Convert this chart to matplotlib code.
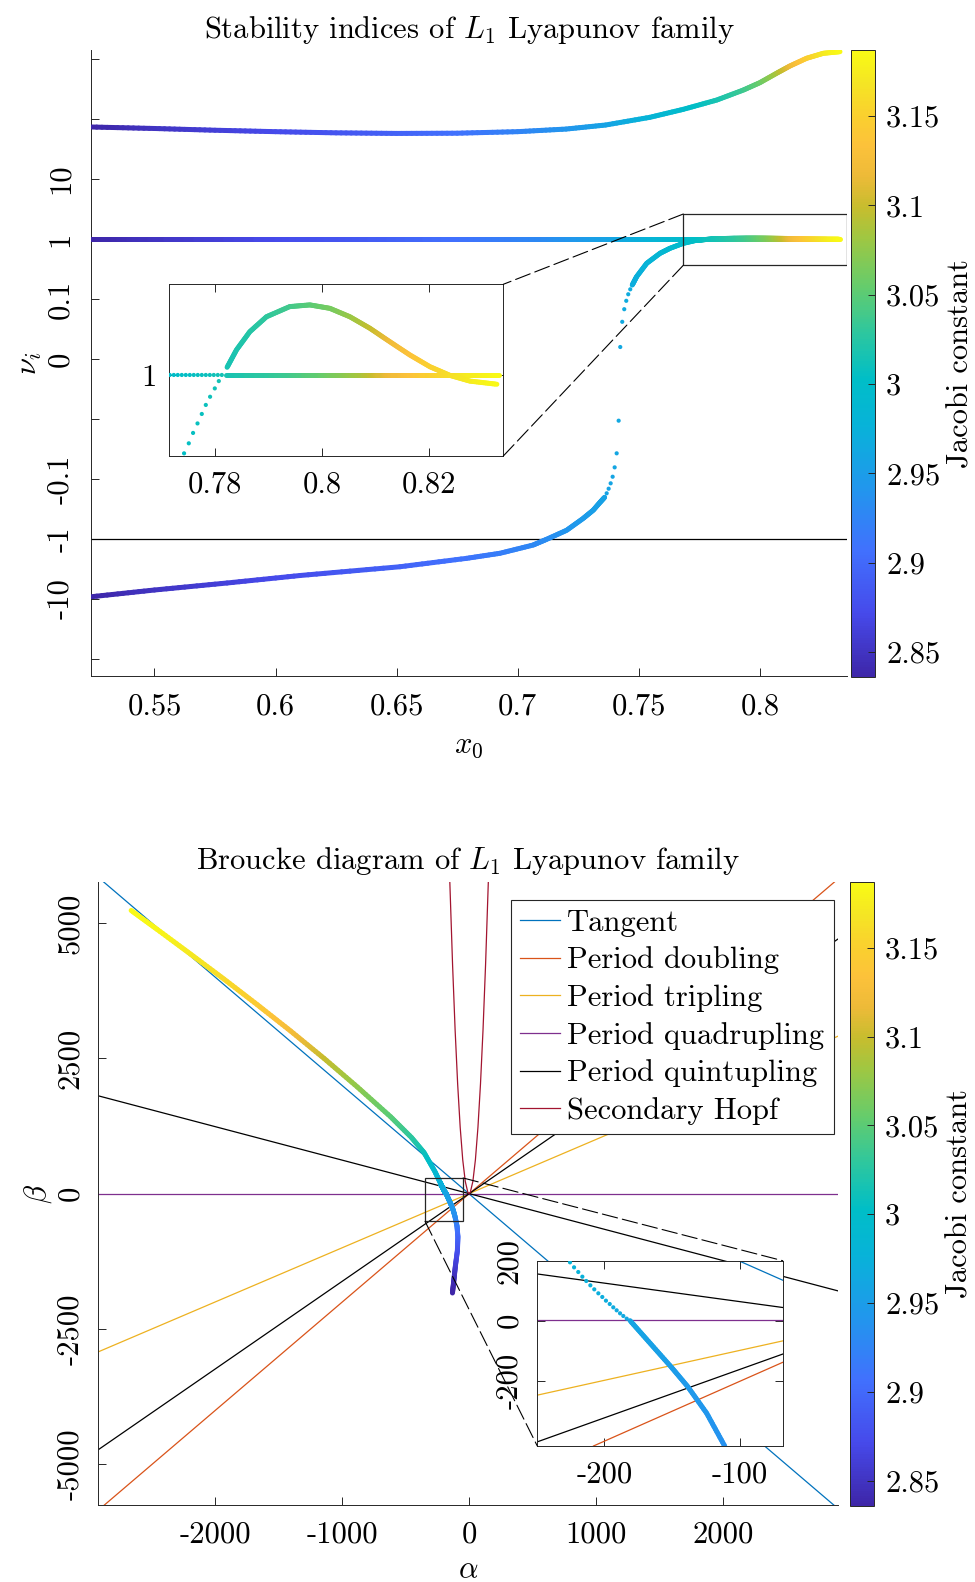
import numpy as np
import matplotlib
matplotlib.use('Agg')
import matplotlib.pyplot as plt
from matplotlib.collections import LineCollection
from matplotlib.colors import LinearSegmentedColormap, Normalize
from matplotlib.patches import Rectangle, ConnectionPatch
from matplotlib.cm import ScalarMappable

plt.rcParams.update({
    'font.family': 'cmr10',
    'mathtext.fontset': 'cm',
    'axes.unicode_minus': False,
    'font.size': 22,
    'axes.linewidth': 0.7,
    'axes.edgecolor': '#262626',
    'xtick.color': '#262626',
    'ytick.color': '#262626',
    'xtick.labelcolor': 'black',
    'ytick.labelcolor': 'black',
})

# --- L1 Lyapunov family: Jacobi constant along x0 ---
fam_x0 = [0.524, 0.55, 0.60, 0.635, 0.68, 0.71, 0.74, 0.755, 0.768, 0.782,
          0.793, 0.800, 0.807, 0.812, 0.819, 0.826, 0.8331]
fam_C = [2.836, 2.850, 2.872, 2.885, 2.910, 2.930, 2.960, 2.980, 2.995, 3.015,
         3.035, 3.055, 3.085, 3.115, 3.145, 3.170, 3.186]

# largest stability index
big_x0 = [0.524, 0.55, 0.575, 0.60, 0.625, 0.65, 0.675, 0.70, 0.72, 0.7363,
          0.7546, 0.7684, 0.7822, 0.7932, 0.8000, 0.8069, 0.8124, 0.8193, 0.8262, 0.8331]
big_nu = [73.6, 69.5, 65.0, 61.5, 58.8, 57.5, 58.0, 61.5, 68.0, 79.4,
          106.7, 145, 207, 304, 403, 578, 764, 1028, 1245, 1324]

# trivial index (always 1)
triv_nu = [1.0, 1.0, 1.0, 1.0, 1.0, 1.0, 1.0, 1.0, 1.0, 1.0,
           1.0, 1.0, 1.0, 1.0, 1.0, 1.0, 1.0]

# third index, lower (negative) branch
low_x0 = [0.524, 0.55, 0.58, 0.6101, 0.6514, 0.6789, 0.6927, 0.7064, 0.712,
          0.7202, 0.7271, 0.7312, 0.734, 0.7359]
low_nu = [-9.16, -7.08, -5.41, -4.06, -2.90, -2.10, -1.73, -1.26, -1.01,
          -0.716, -0.452, -0.331, -0.245, -0.202]
low_dot_x0 = [0.73592, 0.73675, 0.73757, 0.7384, 0.73922, 0.74005, 0.74088, 0.7417]
low_dot_nu = [-0.202, -0.173, -0.145, -0.118, -0.0981, -0.0903, -0.0786, -0.0514]

# third index, upper branch
up_dot_x0 = [0.74236, 0.74318, 0.74401, 0.74484, 0.74566, 0.74649, 0.74732]
up_dot_nu = [0.02, 0.062, 0.083, 0.097, 0.12, 0.145, 0.171]
up_x0 = [0.74732, 0.7491, 0.7533, 0.7588, 0.7629, 0.7684]
up_nu = [0.171, 0.235, 0.394, 0.578, 0.700, 0.848]
rise_x0 = [0.77426, 0.77514, 0.77594, 0.77677, 0.77757, 0.77832, 0.77912, 0.78, 0.78075]
rise_nu = [0.9610, 0.9659, 0.9710, 0.9757, 0.9804, 0.9849, 0.9890, 0.9932, 0.9969]
bump_x0 = [0.7823, 0.78405, 0.78654, 0.78966, 0.79399, 0.79776, 0.8015, 0.80523,
           0.80897, 0.81271, 0.81645, 0.82019, 0.82393, 0.82766, 0.8327]
bump_nu = [1.0039, 1.0128, 1.0222, 1.0300, 1.0353, 1.0362, 1.0344, 1.0300,
           1.0240, 1.0170, 1.0102, 1.0042, 0.9998, 0.9969, 0.9953]
# sparse trivial-index points seen in the zoom window
triv_dot_x0 = [0.77159, 0.77234, 0.77308, 0.77383, 0.77458, 0.77533, 0.77607,
               0.77682, 0.77757, 0.77832, 0.77907, 0.77981, 0.78056, 0.78131]

# --- Broucke diagram of the same family ---
alpha_fam = [-2663, -2458, -2195, -1932, -1669, -1406, -1143, -880, -618, -455, -355, -270]
beta_fam = [5231, 4881, 4425, 3964, 3490, 3004, 2499, 1970, 1420, 1040, 760, 412]
C_fam = [3.186, 3.182, 3.172, 3.160, 3.145, 3.125, 3.100, 3.075, 3.050, 3.030, 3.012, 2.992]
alpha_dots = [-225.3, -222.3, -219.2, -216.2, -213.3, -210.3, -207.4, -204.4,
              -201.5, -198.8, -196.0, -193.4, -190.9, -188.4, -186.0, -183.5]
beta_dots = [194.6, 177.9, 162.3, 146.7, 132.3, 117.9, 104.5, 91.2,
             79.0, 66.7, 55.6, 44.5, 34.5, 24.5, 15.6, 6.7]
C_dots = [2.978, 2.977, 2.976, 2.975, 2.974, 2.973, 2.972, 2.971,
          2.970, 2.969, 2.968, 2.967, 2.966, 2.965, 2.964, 2.963]
alpha_tail = [-181.0, -166.2, -150.5, -138.5, -124.5, -111.7, -95, -88, -92, -108, -120, -131]
beta_tail = [0, -75.5, -155.5, -220, -309, -414.6, -600, -800, -1050, -1340, -1600, -1834]
C_tail = [2.960, 2.955, 2.950, 2.946, 2.942, 2.937, 2.920, 2.900, 2.880, 2.860, 2.845, 2.836]

# bifurcation lines beta = m*alpha + b
bound_label = ['Tangent', 'Period doubling', 'Period tripling', 'Period quadrupling',
               'Period quintupling', None]
bound_slope = [-2.0, 2.0, 1.0, 0.0, -0.618, 1.618]
bound_icept = [-2.0, -2.0, 1.0, 2.0, 1.618, -0.618]
bound_color = ['#0072BD', '#D95319', '#EDB120', '#7E2F8E', 'black', 'black']
hopf_alpha = [-152, -130, -110, -90, -70, -50, -30, -10, 0, 10, 30, 50, 70, 90, 110, 130, 152]
hopf_beta = [5778, 4227, 3027, 2027, 1227, 627, 227, 27, 2, 27, 227, 627, 1227, 2027, 3027, 4227, 5778]

cbar_ticks = [2.85, 2.9, 2.95, 3.0, 3.05, 3.1, 3.15]
cbar_labels = ['2.85', '2.9', '2.95', '3', '3.05', '3.1', '3.15']

parula = LinearSegmentedColormap.from_list('parula', [
    (0.00, (0.242, 0.150, 0.660)),
    (0.10, (0.275, 0.290, 0.920)),
    (0.20, (0.255, 0.440, 0.995)),
    (0.30, (0.130, 0.590, 0.930)),
    (0.40, (0.030, 0.700, 0.850)),
    (0.475, (0.000, 0.745, 0.780)),
    (0.55, (0.180, 0.780, 0.620)),
    (0.625, (0.400, 0.800, 0.420)),
    (0.70, (0.620, 0.780, 0.260)),
    (0.75, (0.780, 0.740, 0.180)),
    (0.80, (0.930, 0.730, 0.220)),
    (0.85, (0.990, 0.760, 0.230)),
    (0.90, (0.980, 0.820, 0.180)),
    (0.95, (0.960, 0.900, 0.140)),
    (1.00, (0.977, 0.984, 0.080)),
])
norm = Normalize(2.836, 3.187)


def fwd(y):
    y = np.asarray(y, float)
    a = np.abs(y)
    lg = np.log10(np.maximum(a, 0.1))
    return np.where(y >= 0, np.where(a >= 0.1, lg + 2, y / 0.1),
                    np.where(a >= 0.1, -(lg + 3), 2 * y / 0.1))


def inv(t):
    t = np.asarray(t, float)
    with np.errstate(over='ignore'):
        return np.where(t >= 0, np.where(t >= 1, 10.0 ** (t - 2), 0.1 * t),
                        np.where(t <= -2, -10.0 ** (-t - 3), 0.05 * t))


def color_line(ax, x, y, c, lw=3.6, log=False, sub=12):
    # coloured polyline; each segment split up so the colour fades smoothly
    x = np.asarray(x, float)
    y = np.asarray(y, float)
    c = np.asarray(c, float)
    ty = fwd(y) if log else y
    s = np.linspace(0, 1, sub + 1)
    segs, cols = [], []
    for i in range(len(x) - 1):
        xx = x[i] + (x[i + 1] - x[i]) * s
        tt = ty[i] + (ty[i + 1] - ty[i]) * s
        yy = inv(tt) if log else tt
        cc = c[i] + (c[i + 1] - c[i]) * s
        pts = np.column_stack([xx, yy])
        segs.extend(np.stack([pts[:-1], pts[1:]], axis=1))
        cols.extend(0.5 * (cc[:-1] + cc[1:]))
    lc = LineCollection(segs, cmap=parula, norm=norm, linewidths=lw,
                        capstyle='round', joinstyle='round', zorder=3)
    lc.set_array(np.array(cols))
    ax.add_collection(lc)


def jac(x):
    return np.interp(x, fam_x0, fam_C)


W, H = 975, 1582
fig = plt.figure(figsize=(W / 100, H / 100), dpi=100)


def px_axes(x0, y0, x1, y1):
    return fig.add_axes([x0 / W, 1 - y1 / H, (x1 - x0) / W, (y1 - y0) / H])


def style(ax, box=False):
    ax.tick_params(direction='in', length=6, width=0.7, top=box, right=box)
    if not box:
        ax.spines['top'].set_visible(False)
        ax.spines['right'].set_visible(False)


dash = (0, (14, 4.5))

# ================= stability indices =================
ax1 = px_axes(91, 50, 847, 676)
ax1.set_yscale('function', functions=(fwd, inv))
ax1.set_xlim(0.5238, 0.836)
ax1.set_ylim(-192, 1413)
style(ax1)
ax1.axhline(-1, color='black', lw=0.9, zorder=2)

color_line(ax1, big_x0, big_nu, jac(big_x0), log=True)
color_line(ax1, fam_x0, triv_nu, jac(fam_x0), log=True)
color_line(ax1, low_x0, low_nu, jac(low_x0), log=True)
up_all_x0 = up_x0 + rise_x0 + bump_x0
up_all_nu = up_nu + rise_nu + bump_nu
color_line(ax1, up_all_x0, up_all_nu, jac(up_all_x0), log=True)
ax1.scatter(low_dot_x0 + up_dot_x0, low_dot_nu + up_dot_nu, s=9, lw=0,
            c=jac(low_dot_x0 + up_dot_x0), cmap=parula, norm=norm, zorder=3)

ax1.set_xticks([0.55, 0.6, 0.65, 0.7, 0.75, 0.8])
ax1.set_xticklabels(['0.55', '0.6', '0.65', '0.7', '0.75', '0.8'])
ax1.set_yticks([1000, 100, 10, 1, 0.1, 0, -0.05, -0.1, -1, -10, -100])
ax1.set_yticklabels(['', '', '10', '1', '0.1', '0', '', '-0.1', '-1', '-10', ''],
                    rotation=90, va='center')
ax1.tick_params(axis='x', pad=12)
ax1.tick_params(axis='y', pad=12)
ax1.set_xlabel(r'$x_0$', labelpad=9)
ax1.set_ylabel(r'$\nu_i$', labelpad=2)
ax1.set_title(r'Stability indices of $L_1$ Lyapunov family', pad=9, fontsize=22)

rect1 = (0.7684, 0.3646, 0.836, 2.61)
ax1.add_patch(Rectangle((rect1[0], rect1[1]), rect1[2] - rect1[0], rect1[3] - rect1[1],
                        fill=False, ec='#262626', lw=0.9, zorder=4))

in1 = px_axes(169.3, 284.3, 503.3, 456)
in1.set_yscale('function', functions=(fwd, inv))
in1.set_xlim(0.7715, 0.8339)
in1.set_ylim(0.9597, 1.0471)
style(in1, box=True)
color_line(in1, fam_x0[9:], triv_nu[9:], jac(fam_x0[9:]), log=True)
color_line(in1, bump_x0, bump_nu, jac(bump_x0), log=True)
in1.scatter(triv_dot_x0, [1.0] * len(triv_dot_x0), s=9, lw=0,
            c=jac(triv_dot_x0), cmap=parula, norm=norm, zorder=3)
in1.scatter(rise_x0, rise_nu, s=9, lw=0, c=jac(rise_x0), cmap=parula, norm=norm, zorder=3)
in1.set_xticks([0.78, 0.8, 0.82])
in1.set_xticklabels(['0.78', '0.8', '0.82'])
in1.set_yticks([1])
in1.set_yticklabels(['1'])
in1.tick_params(axis='x', pad=11)
in1.tick_params(axis='y', pad=9)

for xa, ya, xb, yb in [(rect1[0], rect1[3], 1, 1), (rect1[0], rect1[1], 1, 0)]:
    fig.add_artist(ConnectionPatch((xa, ya), (xb, yb), coordsA='data', coordsB='axes fraction',
                                   axesA=ax1, axesB=in1, ls=dash, lw=0.8, color='black'))

cax1 = px_axes(851, 50, 875, 677)
cb1 = fig.colorbar(ScalarMappable(norm=norm, cmap=parula), cax=cax1)

# ================= Broucke diagram =================
ax2 = px_axes(97.9, 881.8, 837.7, 1505.3)
ax2.set_xlim(-2925, 2905)
ax2.set_ylim(-5755, 5760)
style(ax2)
handles = []
for lab, m, b, col in zip(bound_label, bound_slope, bound_icept, bound_color):
    h = ax2.axline((0, b), slope=m, color=col, lw=0.9, zorder=2)
    if lab:
        h.set_label(lab)
        handles.append(h)
h, = ax2.plot(hopf_alpha, hopf_beta, color='#A2142F', lw=0.9, zorder=2, label='Secondary Hopf')
handles.append(h)

br_alpha = alpha_fam + alpha_dots + alpha_tail
br_beta = beta_fam + beta_dots + beta_tail
br_C = C_fam + C_dots + C_tail
color_line(ax2, br_alpha, br_beta, br_C)

ax2.set_xticks([-2000, -1000, 0, 1000, 2000])
ax2.set_xticklabels(['-2000', '-1000', '0', '1000', '2000'])
ax2.set_yticks([-5000, -2500, 0, 2500, 5000])
ax2.set_yticklabels(['-5000', '-2500', '0', '2500', '5000'], rotation=90, va='center')
ax2.tick_params(axis='x', pad=11)
ax2.tick_params(axis='y', pad=10)
ax2.set_xlabel(r'$\alpha$', labelpad=6)
ax2.set_ylabel(r'$\beta$', labelpad=2)
ax2.set_title(r'Broucke diagram of $L_1$ Lyapunov family', pad=9, fontsize=22)

leg = ax2.legend(handles=handles, loc='upper right', bbox_to_anchor=(0.9946, 0.9708),
                 borderaxespad=0, fancybox=False, framealpha=1, edgecolor='#262626',
                 handlelength=1.3, handletextpad=0.25, labelspacing=0.32,
                 borderpad=0.3, fontsize=22)
leg.get_frame().set_linewidth(0.8)

rect2 = (-347, -511, -47, 290)
ax2.add_patch(Rectangle((rect2[0], rect2[1]), rect2[2] - rect2[0], rect2[3] - rect2[1],
                        fill=False, ec='#262626', lw=0.9, zorder=4))

in2 = px_axes(537.3, 1260.7, 782.7, 1446)
in2.set_xlim(-249.4, -68.5)
in2.set_ylim(-418, 200)
style(in2, box=True)
for m, b, col in zip(bound_slope, bound_icept, bound_color):
    in2.axline((0, b), slope=m, color=col, lw=0.9, zorder=2)
in2.scatter(alpha_dots, beta_dots, s=9, lw=0, c=C_dots, cmap=parula, norm=norm, zorder=3)
color_line(in2, alpha_tail, beta_tail, C_tail)
in2.set_xticks([-200, -100])
in2.set_xticklabels(['-200', '-100'])
in2.set_yticks([-200, 0, 200])
in2.set_yticklabels(['-200', '0', '200'], rotation=90, va='center')
in2.tick_params(axis='x', pad=11)
in2.tick_params(axis='y', pad=10)

for xa, ya, xb, yb in [(rect2[2], rect2[3], 1, 1), (rect2[0], rect2[1], 0, 0)]:
    fig.add_artist(ConnectionPatch((xa, ya), (xb, yb), coordsA='data', coordsB='axes fraction',
                                   axesA=ax2, axesB=in2, ls=dash, lw=0.8, color='black'))

cax2 = px_axes(850, 882, 874, 1505.6)
cb2 = fig.colorbar(ScalarMappable(norm=norm, cmap=parula), cax=cax2)

for cb in (cb1, cb2):
    cb.set_ticks(cbar_ticks)
    cb.set_ticklabels(cbar_labels)
    cb.ax.tick_params(direction='in', length=5, width=0.7, pad=8)
    cb.outline.set_linewidth(0.7)
    cb.outline.set_edgecolor('#262626')
    cb.set_label('Jacobi constant', labelpad=5)

fig.savefig('out.png', dpi=100)
